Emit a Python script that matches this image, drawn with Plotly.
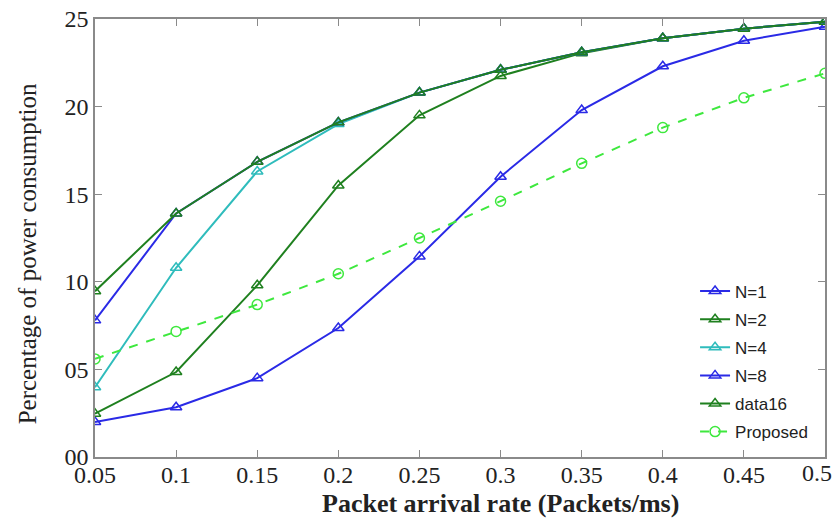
import plotly.graph_objects as go

# Packet arrival rate (Packets/ms)
rate = [0.05, 0.1, 0.15, 0.2, 0.25, 0.3, 0.35, 0.4, 0.45, 0.5]

# Percentage of power consumption per configuration
n1 = [2.0, 2.84, 4.5, 7.36, 11.45, 16.0, 19.8, 22.3, 23.76, 24.56]
n2 = [2.47, 4.85, 9.8, 15.5, 19.5, 21.75, 23.05, 23.9, 24.45, 24.85]
n4 = [3.98, 10.8, 16.3, 19.0, 20.8, 22.1, 23.1, 23.9, 24.45, 24.85]
n8 = [7.8, 13.9, 16.85, 19.1, 20.8, 22.1, 23.1, 23.9, 24.45, 24.85]
data16 = [9.46, 13.9, 16.85, 19.1, 20.8, 22.1, 23.1, 23.9, 24.45, 24.85]
proposed = [5.6, 7.17, 8.7, 10.46, 12.5, 14.6, 16.76, 18.8, 20.5, 21.9]

y_ticks = [0, 5, 10, 15, 20, 25]
y_tick_text = ["00", "05", "10", "15", "20", "25"]
x_ticks = rate
# the last label is drawn separately so it stays inside the page edge
x_tick_text = ["0.05", "0.1", "0.15", "0.2", "0.25", "0.3", "0.35", "0.4", "0.45", ""]
x_last_label = "0.5"

BLUE = "#2a2ae6"
DKGREEN = "#1f801f"
CYAN = "#2fbcbc"
LTGREEN = "#3ee83e"
TICK_FONT = dict(family="Liberation Serif", size=24, color="#222")

fig = go.Figure()

def add_series(name, y, color, symbol="triangle-up-open", dash="solid", width=2):
    fig.add_trace(go.Scatter(
        x=rate, y=y, name=name, mode="lines+markers", legendgroup=name,
        line=dict(color=color, width=width, dash=dash),
        marker=dict(symbol=symbol, size=10, color=color, line=dict(width=1.5, color=color)),
    ))

add_series("N=1", n1, BLUE)
add_series("N=2", n2, DKGREEN)
add_series("N=4", n4, CYAN)
add_series("N=8", n8, BLUE)
add_series("data16", data16, DKGREEN)
add_series("Proposed", proposed, LTGREEN, symbol="circle-open", dash="dash")

axis_common = dict(
    showline=True, linecolor="#8a8a8a", linewidth=1.5, mirror="ticks",
    ticks="inside", ticklen=7, tickcolor="#8a8a8a", showgrid=False, zeroline=False,
    tickfont=TICK_FONT, automargin=False,
)

fig.update_xaxes(range=[0.05, 0.5], tickvals=x_ticks, ticktext=x_tick_text,
                 ticklabelstandoff=-5, **axis_common)
fig.update_yaxes(range=[0, 25], tickvals=y_ticks, ticktext=y_tick_text, **axis_common)

fig.add_annotation(
    text=x_last_label, xref="paper", yref="paper", x=1.013, y=-0.037,
    xanchor="right", yanchor="middle", showarrow=False, font=TICK_FONT,
)

# Axis titles
fig.add_annotation(
    text="<b>Packet arrival rate (Packets/ms)</b>", xref="paper", yref="paper",
    x=0.556, y=-0.107, xanchor="center", yanchor="middle", showarrow=False,
    font=dict(family="Liberation Serif", size=26, color="#222"),
)
fig.add_annotation(
    text="Percentage of power consumption", xref="paper", yref="paper",
    x=-0.093, y=0.463, xanchor="center", yanchor="middle", showarrow=False,
    textangle=-90, font=dict(family="Liberation Serif", size=25, color="#222"),
)

fig.update_layout(
    width=838, height=518,
    margin=dict(l=95, r=13, t=19, b=61),
    paper_bgcolor="white", plot_bgcolor="white",
    legend=dict(
        x=0.822, y=0.017, xanchor="left", yanchor="bottom",
        bgcolor="rgba(255,255,255,0)", borderwidth=0,
        font=dict(family="Liberation Sans", size=17, color="#222"),
        tracegroupgap=3,
    ),
)

fig.write_html("out.html")
